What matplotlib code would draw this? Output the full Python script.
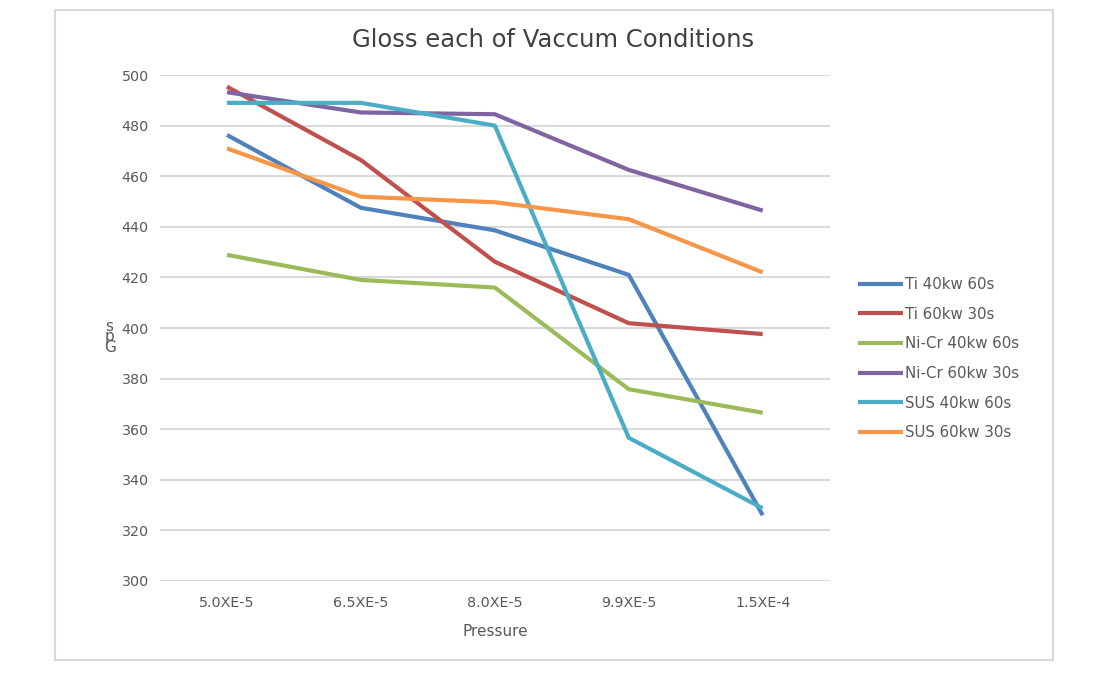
import matplotlib.pyplot as plt
from matplotlib.patches import Rectangle

plt.rcParams["font.family"] = ["DejaVu Sans"]

# data
pressure = ["5.0XE-5", "6.5XE-5", "8.0XE-5", "9.9XE-5", "1.5XE-4"]
ti_40_60 = [476.3, 447.5, 438.6, 421.0, 326.0]
ti_60_30 = [495.4, 466.4, 426.2, 401.9, 397.6]
nicr_40_60 = [428.9, 419.0, 416.0, 375.8, 366.5]
nicr_60_30 = [493.2, 485.2, 484.5, 462.5, 446.4]
sus_40_60 = [489.0, 489.0, 480.0, 356.6, 328.7]
sus_60_30 = [471.0, 451.9, 449.7, 443.0, 422.0]

series = [
    ("Ti 40kw 60s", ti_40_60, "#4F81BD"),
    ("Ti 60kw 30s", ti_60_30, "#C0504D"),
    ("Ni-Cr 40kw 60s", nicr_40_60, "#9BBB59"),
    ("Ni-Cr 60kw 30s", nicr_60_30, "#8064A2"),
    ("SUS 40kw 60s", sus_40_60, "#4BACC6"),
    ("SUS 60kw 30s", sus_60_30, "#F79646"),
]

fig = plt.figure(figsize=(10.96, 6.74), dpi=100)
ax = fig.add_axes([0.146, 0.138, 0.611, 0.7507])

x = list(range(len(pressure)))
for name, vals, col in series:
    ax.plot(x, vals, color=col, lw=3.0, label=name, solid_capstyle="butt")

ax.set_xlim(-0.5, 4.5)
ax.set_ylim(300, 500)
ax.set_yticks(range(300, 501, 20))
ax.set_xticks(x)
ax.set_xticklabels(pressure)
ax.grid(axis="y", color="#D9D9D9", lw=1.5)
ax.set_axisbelow(True)
for s in ax.spines.values():
    s.set_visible(False)
ax.tick_params(length=0, labelsize=10.3, labelcolor="#595959", pad=8)
ax.tick_params(axis="x", pad=11)

ax.set_xlabel("Pressure", fontsize=11, color="#595959", labelpad=10)
fig.text(0.100, 0.50, "s\np\nG", fontsize=11, color="#595959",
         ha="center", va="center", linespacing=0.6)

fig.text(0.505, 0.94, "Gloss each of Vaccum Conditions", fontsize=17.5,
         color="#404040", ha="center", va="center")

ax.legend(loc="center left", bbox_to_anchor=(0.783, 0.468),
          bbox_transform=fig.transFigure, frameon=False, fontsize=10.8,
          labelspacing=0.98, handlelength=3.0, handletextpad=0.1,
          borderpad=0, borderaxespad=0, labelcolor="#595959")

fig.patches.append(Rectangle((55 / 1096, 1 - 660 / 674), 998 / 1096, 650 / 674,
                             transform=fig.transFigure, fill=False,
                             edgecolor="#D9D9D9", lw=1.5))

fig.savefig("out.png", dpi=100)
